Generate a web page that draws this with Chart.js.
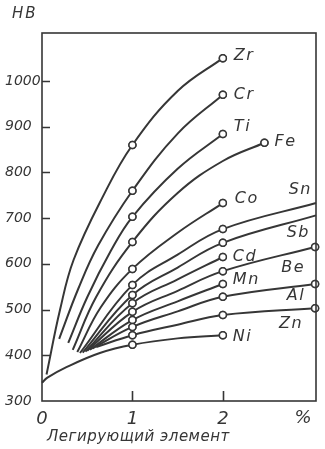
<!DOCTYPE html>
<html>
<head>
<meta charset="utf-8">
<script src="https://cdn.jsdelivr.net/npm/chart.js@4.4.0/dist/chart.umd.min.js"></script>
<style>
  html, body { margin: 0; padding: 0; background: #fff; }
  canvas { display: block; }
</style>
</head>
<body>
<canvas id="chart" width="325" height="449"></canvas>
<script>
// Brinell hardness (HB) vs content of the alloying element, %
var elements = ['Zr', 'Cr', 'Ti', 'Fe', 'Co', 'Sn', 'Sb', 'Cd', 'Be', 'Mn', 'Al', 'Zn', 'Ni'];

// [percent, HB]
var zr = [[0.05, 358], [0.2, 500], [0.35, 609], [0.67, 746], [1, 860], [1.5, 978], [2, 1050]];
var cr = [[0.19, 436], [0.4, 545], [0.62, 640], [1, 760], [1.5, 885], [2, 970]];
var ti = [[0.29, 427], [0.5, 527], [0.76, 628], [1, 703], [1.5, 808], [2, 884]];
var fe = [[0.34, 412], [0.6, 528], [1, 648], [1.5, 755], [2, 825], [2.46, 865]];
var co = [[0.39, 407], [0.65, 505], [1, 589], [1.5, 668], [2, 733]];
var sn = [[0.42, 405], [1, 554], [1.5, 620], [2, 676], [3.03, 733]];
var sb = [[0.45, 406], [1, 532], [1.5, 592], [2, 646], [3.03, 706]];
var cd = [[0.48, 408], [1, 514], [1.5, 566], [2, 615]];
var be = [[0.5, 410], [1, 495], [1.5, 541], [2, 584], [3.02, 637]];
var mn = [[0.53, 412], [1, 477], [1.5, 518], [2, 556]];
var al = [[0.56, 415], [1, 462], [1.5, 496], [2, 528], [3.02, 556]];
var zn = [[0.6, 418], [1, 444], [1.5, 467], [2, 488], [3.02, 503]];
var ni = [[0, 340], [0.06, 351], [0.27, 374], [0.64, 405], [1, 423], [1.5, 437], [2, 444]];

var curves = [zr, cr, ti, fe, co, sn, sb, cd, be, mn, al, zn, ni];

// measured points (drawn as open circles)
var circled = [[1, 2], [1, 2], [1, 2], [1, 2.46], [1, 2], [1, 2], [1, 2], [1, 2],
               [1, 2, 3.02], [1, 2], [1, 2, 3.02], [1, 2, 3.02], [1, 2]];

var yTicks = [300, 400, 500, 600, 700, 800, 900, 1000];
var xTicks = [0, 1, 2];

var ink = '#363636';
var fam = "'DejaVu Sans', sans-serif";

// where each element name sits relative to the last point of its curve
var labelStyle = {
  Zr: [11, -2, 'left'], Cr: [11, 0, 'left'], Ti: [11, -7, 'left'], Fe: [10, -1, 'left'],
  Co: [12, -4, 'left'], Cd: [10, 0, 'left'], Mn: [10, -4, 'left'], Ni: [10, 2, 'left'],
  Sn: [-4, -13, 'right'], Sb: [-6, 17, 'right'], Be: [-10, 21, 'right'],
  Al: [-10, 12, 'right'], Zn: [-12, 16, 'right']
};

var datasets = elements.map(function (name, i) {
  var pts = curves[i].map(function (p) { return { x: p[0], y: p[1] }; });
  return {
    label: name,
    data: pts,
    borderColor: ink,
    borderWidth: 2,
    tension: 0.4,
    pointRadius: pts.map(function (p) { return circled[i].indexOf(p.x) >= 0 ? 3.5 : 0; }),
    pointBackgroundColor: '#fff',
    pointBorderColor: ink,
    pointBorderWidth: 1.5,
    clip: false
  };
});

var frame = {
  id: 'frame',
  beforeDraw: function (chart) {
    var ctx = chart.ctx;
    ctx.save();
    ctx.fillStyle = '#fff';
    ctx.fillRect(0, 0, chart.width, chart.height);
    ctx.restore();
  },
  afterDatasetsDraw: function (chart) {
    // circles on top of every line
    var ctx = chart.ctx;
    chart.data.datasets.forEach(function (d, i) {
      chart.getDatasetMeta(i).data.forEach(function (pt) { pt.draw(ctx); });
    });
  },
  afterDraw: function (chart) {
    var ctx = chart.ctx, a = chart.chartArea;
    var xs = chart.scales.x, ys = chart.scales.y;
    ctx.save();
    ctx.strokeStyle = ink;
    ctx.fillStyle = ink;
    ctx.lineWidth = 1.6;
    ctx.strokeRect(a.left, a.top, a.right - a.left, a.bottom - a.top);

    ctx.beginPath();
    yTicks.forEach(function (v) {
      if (v === ys.min) return;
      var y = Math.round(ys.getPixelForValue(v)) + 0.5;
      ctx.moveTo(a.left, y); ctx.lineTo(a.left + 8, y);
    });
    xTicks.forEach(function (v) {
      if (v === xs.min) return;
      var x = Math.round(xs.getPixelForValue(v)) + 0.5;
      ctx.moveTo(x, a.bottom); ctx.lineTo(x, a.bottom - 10);
    });
    ctx.stroke();

    ctx.textBaseline = 'middle';
    ctx.font = 'italic 15px ' + fam;
    ctx.letterSpacing = '2px';
    ctx.textAlign = 'left';
    ctx.fillText('HB', 12, 14);

    ctx.font = 'italic 18px ' + fam;
    ctx.letterSpacing = '0px';
    ctx.textAlign = 'center';
    ctx.fillText('%', a.right - 13, 418);

    ctx.font = 'italic 15px ' + fam;
    ctx.letterSpacing = '0.5px';
    ctx.textAlign = 'left';
    ctx.fillText('Легирующий элемент', 47, 437);

    ctx.font = 'italic 16px ' + fam;
    ctx.letterSpacing = '1.5px';
    elements.forEach(function (name, i) {
      var pts = chart.getDatasetMeta(i).data;
      var last = pts[pts.length - 1];
      var s = labelStyle[name];
      ctx.textAlign = s[2];
      ctx.fillText(name, last.x + s[0], last.y + s[1]);
    });
    ctx.restore();
  }
};

new Chart(document.getElementById('chart'), {
  type: 'line',
  data: { datasets: datasets },
  plugins: [frame],
  options: {
    responsive: false,
    animation: false,
    devicePixelRatio: 1,
    layout: { padding: { left: 5, top: 33, right: 9, bottom: 0 } },
    plugins: { legend: { display: false }, tooltip: { enabled: false } },
    scales: {
      x: {
        type: 'linear',
        min: 0,
        max: 3.03,
        grid: { display: false, drawTicks: false },
        border: { display: false },
        afterBuildTicks: function (s) { s.ticks = xTicks.map(function (v) { return { value: v }; }); },
        afterFit: function (s) { s.height = 48; },
        ticks: {
          color: ink, padding: 8, maxRotation: 0,
          font: { family: fam, size: 18, style: 'italic' },
          callback: function (v) { return String(v); }
        }
      },
      y: {
        min: 300,
        max: 1105,
        grid: { display: false, drawTicks: false },
        border: { display: false },
        afterBuildTicks: function (s) { s.ticks = yTicks.map(function (v) { return { value: v }; }); },
        afterFit: function (s) { s.width = 37; },
        ticks: {
          color: ink, padding: 4, crossAlign: 'far',
          font: { family: fam, size: 14, style: 'italic' },
          callback: function (v) { return String(v); }
        }
      }
    }
  }
});
</script>
</body>
</html>
